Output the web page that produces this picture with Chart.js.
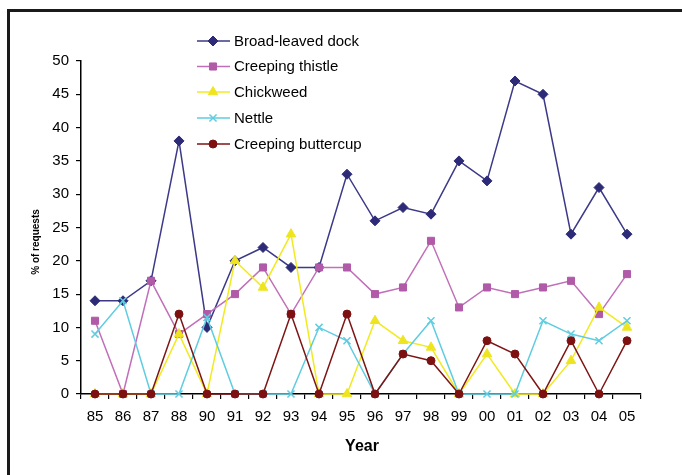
<!DOCTYPE html>
<html>
<head>
<meta charset="utf-8">
<script src="https://cdn.jsdelivr.net/npm/chart.js@4.4.1/dist/chart.umd.min.js"></script>
<style>
  html, body { margin: 0; padding: 0; background: #fff; overflow: hidden; }
  #wrap { position: relative; width: 682px; height: 475px; }
  #frame { position: absolute; left: 7px; top: 9px; width: 720px; height: 520px; border: 3px solid #1a1a1a; box-sizing: border-box; pointer-events: none; }
  canvas { position: absolute; left: 0; top: 0; }
</style>
</head>
<body>
<div id="wrap">
  <canvas id="c" width="682" height="475"></canvas>
  <div id="frame"></div>
</div>
<script>
const years = ["85","86","87","88","90","91","92","93","94","95","96","97","98","99","00","01","02","03","04","05"];
const seriesNames = ["Broad-leaved dock","Creeping thistle","Chickweed","Nettle","Creeping buttercup"];
const broadLeavedDock   = [14,14,17,38,10,20,22,19,19,33,26,28,27,35,32,47,45,24,31,24];
const creepingThistle   = [11, 0,17, 9,12,15,19,12,19,19,15,16,23,13,16,15,16,17,12,18];
const chickweed         = [ 0, 0, 0, 9, 0,20,16,24, 0, 0,11, 8, 7, 0, 6, 0, 0, 5,13,10];
const nettle            = [ 9,14, 0, 0,11.5, 0, 0, 0,10, 8, 0, 6,11, 0, 0, 0,11, 9, 8,11];
const creepingButtercup = [ 0, 0, 0,12, 0, 0, 0,12, 0,12, 0, 6, 5, 0, 8, 6, 0, 8, 0, 8];
const yTicks = [0,5,10,15,20,25,30,35,40,45,50];

const styles = [
  {line:'#3b3988', fill:'#2d2b78', pointStyle:'rectRot', radius:5},
  {line:'#c06fb8', fill:'#b05aa8', pointStyle:'rect', radius:5},
  {line:'#f2ea20', fill:'#eee520', pointStyle:'triangle', radius:5.5},
  {line:'#5fcde0', fill:'#5fcde0', pointStyle:'crossRot', radius:5},
  {line:'#7d1515', fill:'#7d1111', pointStyle:'circle', radius:4}
];
const allData = [broadLeavedDock, creepingThistle, chickweed, nettle, creepingButtercup];

const datasets = allData.map((d, i) => ({
  label: seriesNames[i],
  data: d,
  borderColor: styles[i].line,
  backgroundColor: styles[i].fill,
  pointBorderColor: styles[i].pointStyle === 'crossRot' ? styles[i].line : styles[i].fill,
  pointBackgroundColor: styles[i].fill,
  pointStyle: styles[i].pointStyle,
  pointRadius: styles[i].radius,
  pointBorderWidth: styles[i].pointStyle === 'crossRot' ? 1.5 : 1,
  borderWidth: 1.5,
  tension: 0,
  order: 5 - i,
  clip: false
}));

const FONT = '"Liberation Sans", Arial, sans-serif';

const customLegend = {
  id: 'customLegend',
  afterDraw(chart) {
    const ctx = chart.ctx;
    ctx.save();
    const rows = [41, 66.5, 92, 118, 144];
    datasets.forEach((ds, i) => {
      const y = rows[i];
      ctx.strokeStyle = ds.borderColor;
      ctx.lineWidth = 1.5;
      ctx.beginPath();
      ctx.moveTo(197, y);
      ctx.lineTo(230, y);
      ctx.stroke();
      ctx.fillStyle = ds.pointBackgroundColor;
      ctx.strokeStyle = ds.pointBorderColor;
      ctx.lineWidth = ds.pointBorderWidth;
      Chart.helpers.drawPoint(ctx, {pointStyle: ds.pointStyle, radius: ds.pointRadius, borderWidth: ds.pointBorderWidth, rotation: 0}, 213, y);
      ctx.fillStyle = '#000';
      ctx.font = '15px ' + FONT;
      ctx.textAlign = 'left';
      ctx.textBaseline = 'middle';
      ctx.fillText(ds.label, 234, y + 0.5);
    });
    // axis titles
    ctx.fillStyle = '#000';
    ctx.font = 'bold 16px ' + FONT;
    ctx.textAlign = 'center';
    ctx.textBaseline = 'middle';
    ctx.fillText('Year', 362, 447);
    ctx.save();
    ctx.translate(36, 242);
    ctx.rotate(-Math.PI / 2);
    ctx.font = 'bold 10px ' + FONT;
    ctx.fillText('% of requests', 0, 0);
    ctx.restore();
    ctx.restore();
  }
};

new Chart(document.getElementById('c'), {
  type: 'line',
  data: { labels: years, datasets },
  options: {
    responsive: false,
    animation: false,
    devicePixelRatio: 1,
    layout: { padding: { left: 40, top: 61, right: 41, bottom: 51 } },
    plugins: { legend: { display: false }, tooltip: { enabled: false } },
    scales: {
      x: {
        type: 'category',
        offset: true,
        grid: { display: true, drawOnChartArea: false, drawTicks: true, tickLength: 5, color: '#000', lineWidth: 1.2, offset: true },
        border: { display: true, color: '#000', width: 1.5 },
        ticks: { color: '#000', font: { family: FONT, size: 15 }, padding: 9, maxRotation: 0, autoSkip: false },
        afterFit(scale) { scale.height = 30; }
      },
      y: {
        min: 0, max: 50,
        afterBuildTicks(scale) { scale.ticks = yTicks.map(v => ({ value: v })); },
        grid: { display: true, drawOnChartArea: false, drawTicks: true, tickLength: 5, color: '#000', lineWidth: 1.2 },
        border: { display: true, color: '#000', width: 1.5 },
        ticks: { color: '#000', font: { family: FONT, size: 15 }, padding: 7 },
        afterFit(scale) { scale.width = 41; }
      }
    }
  },
  plugins: [customLegend]
});
</script>
</body>
</html>
